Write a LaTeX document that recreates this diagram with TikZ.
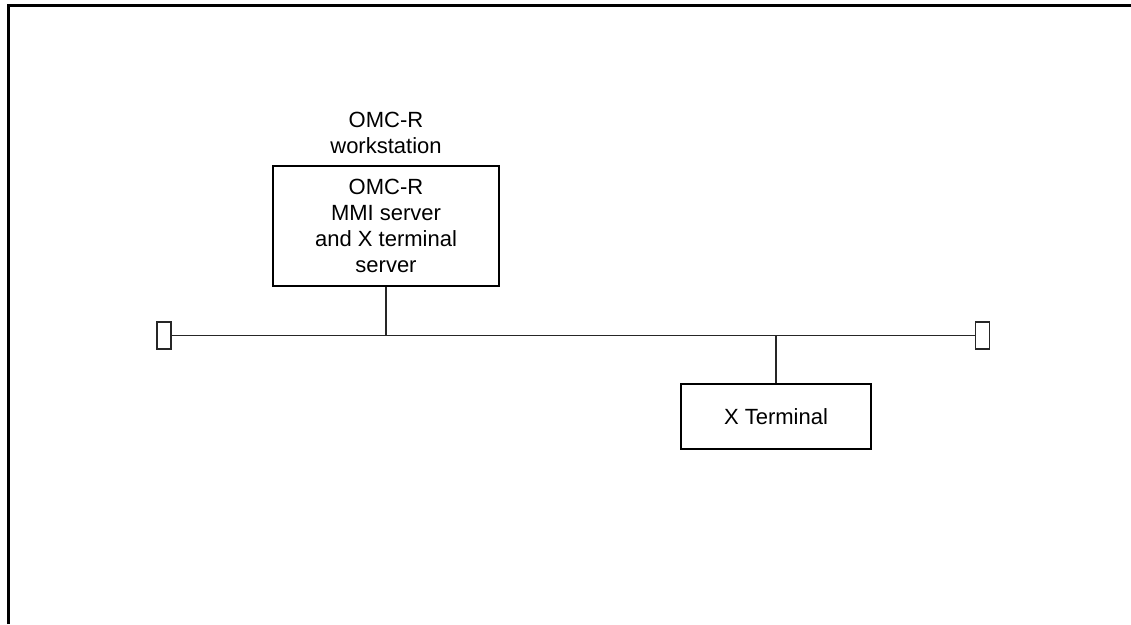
\documentclass[tikz,border=0pt]{standalone}
\usepackage{fontspec}
\setmainfont{Liberation Sans}
\begin{document}
\begin{tikzpicture}[x=1pt,y=-1pt,
  boxnode/.style={draw=black, line width=2pt, inner sep=0pt, align=center,
    font=\fontsize{22}{26}\selectfont},
  termnode/.style={draw=black!85, line width=1.6pt, inner sep=0pt, minimum width=14pt, minimum height=27pt},
  labelnode/.style={inner sep=0pt, align=center, font=\fontsize{22}{26}\selectfont},
  frameline/.style={line width=3pt, black},
  busline/.style={line width=1.5pt, black!85}]
\useasboundingbox (0,0) rectangle (1131,624);
% frame
\draw[frameline] (8.5,624) -- (8.5,5.5) -- (1131,5.5);
% nodes
\node[boxnode, minimum width=226.5pt, minimum height=120pt] (omc) at (386,226)
  {OMC-R\\MMI server\\and X terminal\\server};
\node[labelnode] (lbl) at (386,133) {OMC-R\\workstation};
\node[boxnode, minimum width=190pt, minimum height=65pt] (xt) at (776,416.5) {X Terminal};
\node[termnode] (tl) at (164,335.5) {};
\node[termnode] (tr) at (982.5,335.5) {};
% bus
\coordinate (b1) at (386,335.5);
\coordinate (b2) at (776,335.5);
\draw[busline] (tl.east) -- (tr.west);
\draw[busline] (omc.south) -- (b1);
\draw[busline] (xt.north) -- (b2);
\end{tikzpicture}
\end{document}
